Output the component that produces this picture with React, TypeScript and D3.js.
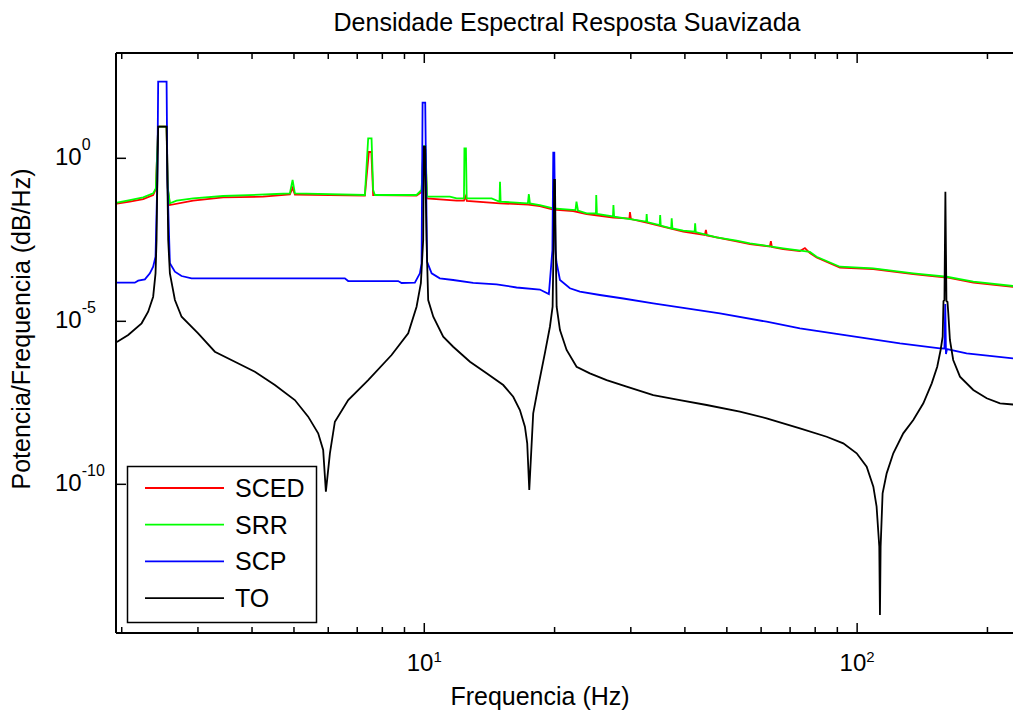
import React from 'react';
import * as d3 from 'd3';

// ---------- data ----------
const seriesNames = ['SCED', 'SRR', 'SCP', 'TO'];
const seriesColors = ['#ff0000', '#00ff00', '#0000ff', '#000000'];

const freqSCED = [1.95, 2.088, 2.242, 2.364, 2.398, 2.428, 2.539, 2.556, 2.584, 2.924, 3.43, 4.243, 4.892, 4.963, 5.024, 7.291, 7.448, 7.546, 7.619, 9.598, 9.857, 9.952, 10.06, 10.14, 11.88, 12.35, 12.48, 12.54, 14.96, 17.38, 18.49, 19.86, 22.08, 23.72, 27.32, 29.78, 29.86, 30.02, 32.64, 39.65, 44.49, 44.73, 44.97, 52.67, 56.54, 62.86, 63.2, 63.54, 67.48, 73.76, 75.74, 77.78, 80.6, 91.25, 109.0, 134.8, 161.0, 185.5, 250];
const valSCED = [4.11e-2, 4.73e-2, 5.64e-2, 7.49e-2, 1.14e-1, 9.32, 9.32, 1.14e-1, 3.69e-2, 5.01e-2, 6.36e-2, 6.64e-2, 7.76e-2, 1.23e-1, 7.76e-2, 7.23e-2, 1.56, 1.56, 7.49e-2, 7.23e-2, 9.25e-2, 1.8, 1.8, 5.93e-2, 5.01e-2, 5.01e-2, 6.98e-2, 4.9e-2, 4.17e-2, 3.83e-2, 3.44e-2, 2.69e-2, 2.42e-2, 1.96e-2, 1.53e-2, 1.42e-2, 2.25e-2, 1.37e-2, 1.07e-2, 5.68e-3, 4.44e-3, 6.32e-3, 4.29e-3, 2.81e-3, 2.35e-3, 1.97e-3, 2.9e-3, 1.9e-3, 1.65e-3, 1.43e-3, 1.77e-3, 1.24e-3, 9.06e-4, 4.47e-4, 4.02e-4, 2.82e-4, 2.21e-4, 1.55e-4, 1.01e-4];

const freqSRR = [1.95, 2.088, 2.242, 2.364, 2.398, 2.428, 2.539, 2.556, 2.584, 2.678, 2.924, 3.43, 4.558, 4.892, 4.963, 5.024, 7.291, 7.42, 7.554, 7.619, 7.688, 9.598, 9.857, 9.952, 10.06, 10.15, 11.46, 11.88, 12.35, 12.38, 12.48, 12.53, 14.31, 14.92, 14.96, 15.01, 17.35, 17.44, 17.54, 18.49, 19.86, 22.35, 22.47, 22.65, 23.72, 24.92, 24.96, 25.05, 27.28, 27.35, 27.45, 29.86, 32.57, 32.64, 32.74, 34.98, 35.07, 35.18, 37.19, 37.29, 37.43, 39.65, 42.13, 42.24, 42.38, 47.35, 52.67, 56.54, 67.48, 77.78, 80.6, 91.25, 109.0, 134.8, 161.0, 185.5, 229.1, 250];
const valSRR = [4.35e-2, 5.26e-2, 6.36e-2, 8.44e-2, 1.2e-1, 9.32, 9.32, 1.23e-1, 4.17e-2, 5.01e-2, 5.93e-2, 6.98e-2, 8.03e-2, 8.44e-2, 2.16e-1, 8.44e-2, 7.49e-2, 4.11, 4.11, 1.07e-1, 7.49e-2, 7.49e-2, 1.07e-1, 2.38, 2.38, 6.64e-2, 6.64e-2, 5.93e-2, 5.93e-2, 2.03, 2.03, 5.93e-2, 5.93e-2, 4.66e-2, 1.92e-1, 4.66e-2, 4.17e-2, 8.03e-2, 4.11e-2, 3.69e-2, 2.93e-2, 2.59e-2, 4.66e-2, 2.51e-2, 2.06e-2, 2.03e-2, 7.49e-2, 1.96e-2, 1.64e-2, 3.69e-2, 1.62e-2, 1.37e-2, 1.15e-2, 1.96e-2, 1.11e-2, 9.0e-3, 1.82e-2, 8.68e-3, 7.13e-3, 1.44e-2, 7.03e-3, 6.02e-3, 5.6e-3, 1.01e-2, 5.49e-3, 3.77e-3, 2.97e-3, 2.47e-3, 1.74e-3, 1.34e-3, 9.58e-4, 4.73e-4, 4.22e-4, 2.97e-4, 2.33e-4, 1.64e-4, 1.21e-4, 1.05e-4];

const freqSCP = [1.95, 2.144, 2.183, 2.262, 2.323, 2.364, 2.394, 2.417, 2.428, 2.539, 2.55, 2.584, 2.654, 2.749, 2.9, 6.554, 6.67, 8.704, 8.863, 9.512, 9.769, 9.857, 9.91, 10.05, 10.15, 10.4, 10.86, 11.66, 12.97, 14.69, 16.34, 18.49, 19.4, 19.77, 19.86, 19.97, 20.09, 20.2, 20.58, 21.7, 22.88, 25.45, 28.82, 33.8, 40.37, 48.19, 61.78, 73.76, 88.06, 105.2, 125.6, 155.3, 159.1, 159.8, 160.4, 161.3, 179.0, 229.1, 250];
const valSCP = [1.53e-4, 1.53e-4, 1.76e-4, 1.94e-4, 2.97e-4, 4.73e-4, 9.58e-4, 2.16e-1, 224, 224, 2.16e-1, 6.02e-4, 3.32e-4, 2.45e-4, 2.08e-4, 2.08e-4, 1.72e-4, 1.72e-4, 1.5e-4, 1.53e-4, 2.97e-4, 6.02e-4, 50.8, 50.8, 6.73e-4, 2.97e-4, 2.08e-4, 1.85e-4, 1.5e-4, 1.36e-4, 1.09e-4, 9.45e-5, 6.88e-5, 1.54e-3, 1.49, 1.49, 1.54e-3, 6.59e-4, 1.85e-4, 1.03e-4, 8.09e-5, 6.41e-5, 5.01e-5, 3.57e-5, 2.51e-5, 1.76e-5, 9.72e-6, 6.1e-6, 4.29e-6, 3.01e-6, 2.11e-6, 1.49e-6, 1.46e-6, 3.39e-5, 9.93e-7, 1.41e-6, 1.04e-6, 7.33e-7, 6.5e-7];

const freqTO = [1.949, 2.07, 2.223, 2.302, 2.364, 2.394, 2.407, 2.417, 2.428, 2.539, 2.55, 2.561, 2.584, 2.654, 2.75, 3.003, 3.282, 3.651, 4.061, 4.517, 5.023, 5.392, 5.687, 5.84, 5.925, 6.053, 6.215, 6.672, 7.42, 8.403, 9.18, 9.598, 9.82, 9.942, 9.979, 10.04, 10.12, 10.21, 10.49, 11.06, 11.66, 12.75, 13.93, 15.22, 16.05, 16.63, 17.08, 17.29, 17.48, 17.85, 18.33, 18.99, 19.51, 19.79, 19.9, 19.95, 20.04, 20.11, 20.22, 20.58, 21.32, 22.48, 24.13, 26.38, 29.34, 33.8, 38.95, 44.91, 53.59, 61.78, 73.76, 85.04, 92.88, 99.75, 105.2, 109.0, 110.9, 112.5, 112.9, 113.3, 114.5, 117.0, 121.2, 127.8, 134.8, 142.2, 148.7, 153.1, 155.9, 157.6, 158.3, 159.1, 159.9, 160.8, 161.7, 162.4, 163.8, 166.7, 172.8, 185.5, 199.2, 213.8, 229.1, 250];
const valTO = [2.32e-6, 3.8e-6, 8.69e-6, 1.97e-5, 5.69e-5, 2.96e-4, 3.12e-3, 2.16e-1, 9.32, 9.32, 2.16e-1, 3.12e-3, 2.96e-4, 4.5e-5, 1.38e-5, 4.29e-6, 1.17e-6, 5.77e-7, 2.84e-7, 1.11e-7, 3.85e-8, 1.19e-8, 3.66e-9, 1.13e-9, 5.93e-11, 8.93e-10, 8.32e-9, 3.85e-8, 1.58e-7, 9.25e-7, 4.29e-6, 2.81e-5, 1.47e-4, 3.12e-3, 2.27, 2.27, 3.12e-3, 4.5e-5, 1.38e-5, 3.37e-6, 1.66e-6, 5.77e-7, 2.54e-7, 1.11e-7, 4.86e-8, 1.9e-8, 5.85e-9, 1.81e-9, 6.68e-11, 1.51e-8, 9.86e-8, 1.04e-6, 6.82e-6, 2.81e-5, 3.12e-3, 2.16e-1, 2.16e-1, 3.12e-3, 2.81e-5, 5.41e-6, 1.32e-6, 4.05e-7, 2.54e-7, 1.58e-7, 9.86e-8, 5.48e-8, 3.85e-8, 2.71e-8, 1.69e-8, 1.06e-8, 5.22e-9, 2.88e-9, 1.81e-9, 8.93e-10, 3.47e-10, 8.44e-11, 2.06e-11, 1.22e-12, 9.8e-15, 1.22e-12, 5.3e-11, 2.17e-10, 8.93e-10, 3.66e-9, 9.38e-9, 3.05e-8, 1.25e-7, 4.05e-7, 1.32e-6, 3.37e-6, 4.2e-5, 4.5e-5, 9.45e-2, 4.2e-5, 3.91e-5, 1.76e-5, 2.67e-6, 6.5e-7, 2.0e-7, 7.82e-8, 4.35e-8, 3.05e-8, 2.81e-8, 2.6e-8];

const xDomain = [1.94, 250];
const yDomain = [2.75e-15, 1.7e3];
const xMinorTicks = [2, 3, 4, 5, 6, 7, 8, 9, 20, 30, 40, 50, 60, 70, 80, 90, 200];
const xMajorTicks = [10, 100];
const xMajorExp = ['1', '2'];
const yTicks = [1, 1e-5, 1e-10];
const yTickExp = ['0', '-5', '-10'];

const titleText = 'Densidade Espectral Resposta Suavizada';
const xLabel = 'Frequencia (Hz)';
const yLabel = 'Potencia/Frequencia (dB/Hz)';

// ---------- layout ----------
const W = 1013;
const H = 710;
const L = 116;
const R = 1029.4;
const T = 53;
const B = 633;
const FONT = '"Liberation Sans", Arial, Helvetica, sans-serif';

export default function App() {
  const x = d3.scaleLog().domain(xDomain).range([L, R]);
  const y = d3.scaleLog().domain(yDomain).range([B, T]);
  const line = d3
    .line<[number, number]>()
    .x((d) => x(d[0]))
    .y((d) => y(d[1]));

  const series = [
    { f: freqSCED, v: valSCED },
    { f: freqSRR, v: valSRR },
    { f: freqSCP, v: valSCP },
    { f: freqTO, v: valTO },
  ];

  const legX = 127.5;
  const legY = 466.5;
  const legW = 189;
  const legH = 156;

  return (
    <svg
      width={W}
      height={H}
      style={{ position: 'absolute', left: 0, top: 0, background: '#fff' }}
      fontFamily={FONT}
    >
      <rect x={0} y={0} width={W} height={H} fill="#fff" />
      <defs>
        <clipPath id="plotClip">
          <rect x={L} y={T} width={R - L} height={B - T} />
        </clipPath>
      </defs>

      <text x={567} y={31} fontSize={25} textAnchor="middle" fill="#000">
        {titleText}
      </text>

      <g clipPath="url(#plotClip)">
        {series.map((s, i) => (
          <path
            key={seriesNames[i]}
            d={line(s.f.map((f, j) => [f, s.v[j]] as [number, number])) || ''}
            fill="none"
            stroke={seriesColors[i]}
            strokeWidth={1.8}
            strokeLinejoin="miter"
          />
        ))}
      </g>

      {/* frame */}
      <g stroke="#000" strokeWidth={2} fill="none">
        <line x1={L} y1={T} x2={W} y2={T} />
        <line x1={L} y1={T} x2={L} y2={B} />
        <line x1={L} y1={B} x2={W} y2={B} />
      </g>

      {/* ticks */}
      <g stroke="#000" strokeWidth={1.5}>
        {xMinorTicks.map((t) => (
          <g key={'mi' + t}>
            <line x1={x(t)} x2={x(t)} y1={B} y2={B - 6} />
            <line x1={x(t)} x2={x(t)} y1={T} y2={T + 6} />
          </g>
        ))}
        {xMajorTicks.map((t) => (
          <g key={'ma' + t}>
            <line x1={x(t)} x2={x(t)} y1={B} y2={B - 10} />
            <line x1={x(t)} x2={x(t)} y1={T} y2={T + 10} />
          </g>
        ))}
        {yTicks.map((t) => (
          <line key={'y' + t} x1={L} x2={L + 10} y1={y(t)} y2={y(t)} />
        ))}
      </g>

      {xMajorTicks.map((t, i) => (
        <text key={'xl' + t} x={x(t)} y={671} fontSize={24} textAnchor="middle" fill="#000">
          <tspan>10</tspan>
          <tspan fontSize={15} dy={-9}>
            {xMajorExp[i]}
          </tspan>
        </text>
      ))}

      {yTicks.map((t, i) => (
        <text key={'yl' + t} x={55} y={y(t) + 7} fontSize={24} fill="#000">
          <tspan>10</tspan>
          <tspan fontSize={16} dy={-15}>
            {yTickExp[i]}
          </tspan>
        </text>
      ))}

      <text x={540} y={705} fontSize={25} textAnchor="middle" fill="#000">
        {xLabel}
      </text>
      <text
        transform={`translate(30,${329}) rotate(-90)`}
        fontSize={25}
        textAnchor="middle"
        fill="#000"
      >
        {yLabel}
      </text>

      {/* legend */}
      <rect x={legX} y={legY} width={legW} height={legH} fill="#fff" stroke="#000" strokeWidth={1.5} />
      {seriesNames.map((n, i) => {
        const yy = 488 + i * 36.7;
        return (
          <g key={'lg' + n}>
            <line x1={145} x2={224} y1={yy} y2={yy} stroke={seriesColors[i]} strokeWidth={1.8} />
            <text x={235} y={yy + 9} fontSize={25} fill="#000">
              {n}
            </text>
          </g>
        );
      })}
    </svg>
  );
}
